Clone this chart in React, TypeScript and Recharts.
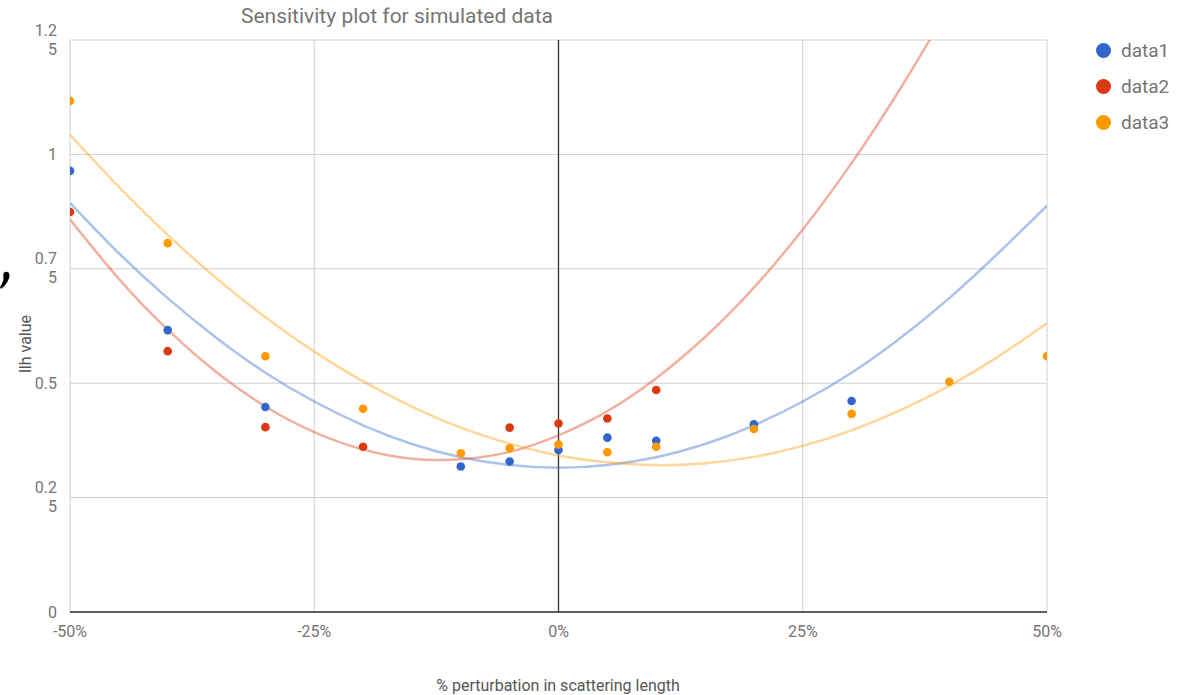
import {
  ComposedChart,
  Line,
  Scatter,
  XAxis,
  YAxis,
  CartesianGrid,
  ReferenceLine,
} from 'recharts';

// Measured points (% perturbation -> llh value)
const DATA1_X = [-50, -40, -30, -10, -5, 0, 5, 10, 20, 30];
const DATA1_Y = [0.964, 0.616, 0.448, 0.318, 0.329, 0.354, 0.381, 0.374, 0.41, 0.461];

const DATA2_X = [-50, -40, -30, -20, -5, 0, 5, 10];
const DATA2_Y = [0.874, 0.57, 0.404, 0.361, 0.403, 0.412, 0.423, 0.485];

const DATA3_X = [-50, -40, -30, -20, -10, -5, 0, 5, 10, 20, 30, 40, 50];
const DATA3_Y = [1.117, 0.806, 0.559, 0.444, 0.347, 0.358, 0.366, 0.349, 0.361, 0.4, 0.433, 0.503, 0.559];

// Trendlines, every 5%
const TREND_X = [-50, -45, -40, -35, -30, -25, -20, -15, -10, -5, 0, 5, 10, 15, 20, 25, 30, 35, 40, 45, 50];
const TREND1_Y = [0.894, 0.784, 0.686, 0.599, 0.523, 0.46, 0.408, 0.367, 0.338, 0.321, 0.315, 0.321, 0.338, 0.367, 0.408, 0.46, 0.523, 0.599, 0.686, 0.784, 0.888];
const TREND2_Y = [0.858, 0.728, 0.617, 0.524, 0.449, 0.393, 0.355, 0.335, 0.334, 0.35, 0.386, 0.439, 0.511, 0.601, 0.709, 0.836, 0.981, 1.144, 1.325, 1.525, 1.743];
const TREND3_Y = [1.043, 0.929, 0.824, 0.729, 0.644, 0.569, 0.504, 0.449, 0.403, 0.368, 0.342, 0.327, 0.321, 0.325, 0.339, 0.363, 0.397, 0.441, 0.494, 0.558, 0.631];

const X_TICKS = [-50, -25, 0, 25, 50];
const Y_TICKS = [0, 0.25, 0.5, 0.75, 1, 1.25];

const SERIES = [
  { name: 'data1', color: '#3366cc', x: DATA1_X, y: DATA1_Y, trend: TREND1_Y },
  { name: 'data2', color: '#dc3912', x: DATA2_X, y: DATA2_Y, trend: TREND2_Y },
  { name: 'data3', color: '#ff9900', x: DATA3_X, y: DATA3_Y, trend: TREND3_Y },
];

const FONT = 'Roboto, sans-serif';
const TEXT_GRAY = '#757575';

const zip = (xs: number[], ys: number[]) => xs.map((x, i) => ({ x, y: ys[i] }));

// long tick labels wrap onto a second line, as in the original
function YTick({ x, y, payload }: any) {
  const label = String(payload.value);
  const lines = label.length > 3 ? [label.slice(0, 3), label.slice(3)] : [label];
  return (
    <g>
      {lines.map((ln, i) => (
        <text
          key={i}
          x={x}
          y={lines.length > 1 ? y - 10 + i * 19 : y}
          textAnchor="end"
          dominantBaseline="central"
          fontSize={16}
          fontFamily={FONT}
          fill={TEXT_GRAY}
        >
          {ln}
        </text>
      ))}
    </g>
  );
}

export default function App() {
  return (
    <div style={{ position: 'absolute', left: 0, top: 0, width: 1182, height: 695, background: '#fff', fontFamily: FONT, overflow: 'hidden' }}>
      <div
        style={{
          position: 'absolute',
          left: 0,
          width: 794,
          top: 4,
          textAlign: 'center',
          fontSize: 21,
          color: TEXT_GRAY,
        }}
      >
        Sensitivity plot for simulated data
      </div>
      <div
        style={{
          position: 'absolute',
          left: 25,
          top: 344,
          transform: 'translate(-50%, -50%) rotate(-90deg)',
          fontSize: 16,
          color: '#555',
          whiteSpace: 'nowrap',
        }}
      >
        llh value
      </div>
      <div
        style={{
          position: 'absolute',
          left: 258,
          width: 600,
          top: 676,
          textAlign: 'center',
          fontSize: 16,
          color: '#555',
        }}
      >
        % perturbation in scattering length
      </div>
      {/* stray ink mark at the left edge of the original screenshot */}
      <svg style={{ position: 'absolute', left: 0, top: 268 }} width={14} height={26}>
        <path d="M5 4 Q9.5 3 9.5 8 Q8.5 15 1 21 L0 19 Q3.5 14 3.5 10 Q2.5 5 5 4 Z" fill="#000" />
      </svg>
      {SERIES.map((s, i) => (
        <div key={s.name} style={{ position: 'absolute', left: 1096, top: 39 + i * 36, display: 'flex', alignItems: 'center', height: 22 }}>
          <div style={{ width: 15, height: 15, borderRadius: 8, background: s.color }} />
          <span style={{ marginLeft: 10, fontSize: 19, color: TEXT_GRAY }}>{s.name}</span>
        </div>
      ))}
      <ComposedChart width={1182} height={695} margin={{ top: 40, right: 135, bottom: 0, left: 0 }}>
        <CartesianGrid stroke="#d0d0d0" />
        <XAxis
          type="number"
          dataKey="x"
          domain={[-50, 50]}
          ticks={X_TICKS}
          allowDataOverflow
          height={83}
          tickSize={0}
          tickMargin={14}
          tickFormatter={(v: number) => `${v}%`}
          tick={{ fontSize: 16, fontFamily: FONT, fill: TEXT_GRAY }}
          axisLine={{ stroke: '#333', strokeWidth: 1.5 }}
        />
        <YAxis
          type="number"
          dataKey="y"
          domain={[0, 1.25]}
          ticks={Y_TICKS}
          allowDataOverflow
          width={70}
          tickSize={0}
          tickMargin={13}
          axisLine={false}
          tick={<YTick />}
        />
        <ReferenceLine x={0} stroke="#333" strokeWidth={1.3} />
        {SERIES.map((s) => (
          <Line
            key={`trend-${s.name}`}
            data={zip(TREND_X, s.trend)}
            dataKey="y"
            type="natural"
            stroke={s.color}
            strokeOpacity={0.4}
            strokeWidth={2.5}
            dot={false}
            activeDot={false}
            isAnimationActive={false}
          />
        ))}
        {SERIES.map((s) => (
          <Scatter
            key={s.name}
            name={s.name}
            data={zip(s.x, s.y)}
            dataKey="y"
            fill={s.color}
            shape={(p: any) => <circle cx={p.cx} cy={p.cy} r={4.3} fill={s.color} />}
            isAnimationActive={false}
          />
        ))}
      </ComposedChart>
    </div>
  );
}
